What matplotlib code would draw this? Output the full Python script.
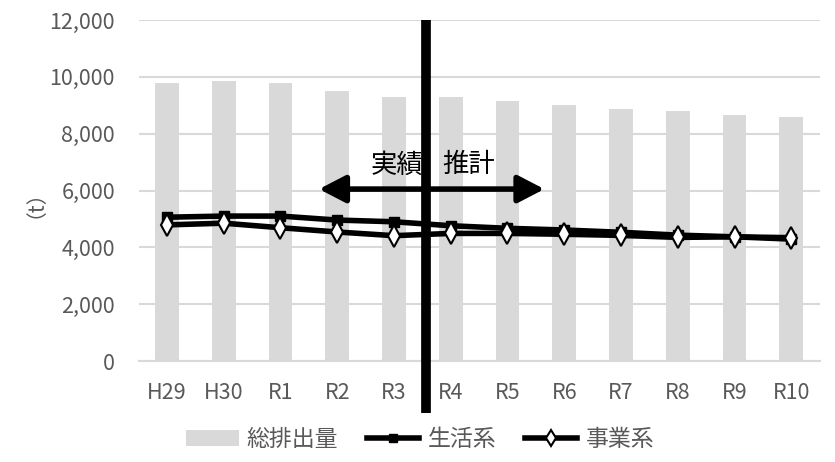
import matplotlib

matplotlib.use("Agg")
import matplotlib.pyplot as plt
from matplotlib.ticker import FuncFormatter

plt.rcParams["font.family"] = ["Noto Sans CJK JP", "DejaVu Sans"]

years = ["H29", "H30", "R1", "R2", "R3", "R4", "R5", "R6", "R7", "R8", "R9", "R10"]
total = [9790, 9850, 9790, 9500, 9290, 9290, 9150, 9010, 8870, 8800, 8660, 8590]
household = [5060, 5100, 5100, 4960, 4900, 4760, 4670, 4610, 4530, 4430, 4370, 4290]
business = [4790, 4850, 4690, 4540, 4410, 4490, 4490, 4460, 4420, 4350, 4370, 4340]

split_x = 4.56  # boundary between actual and estimate
arrow_span = (2.68, 6.65)
arrow_y = 6050

gray_txt = "#595959"
grid_col = "#d9d9d9"

fig = plt.figure(figsize=(8.35, 4.62), dpi=100)
ax = fig.add_axes([0.166, 0.2186, 0.8156, 0.7381])

x = list(range(len(years)))
bars = ax.bar(x, total, width=0.42, color="#d9d9d9", label="総排出量", zorder=2)
l1, = ax.plot(x, household, color="black", linewidth=4, marker="s", markersize=7.5,
              markerfacecolor="black", markeredgecolor="black", label="生活系", zorder=3)
l2, = ax.plot(x, business, color="black", linewidth=4, marker="d", markersize=11,
              markerfacecolor="white", markeredgecolor="black", markeredgewidth=1.5,
              label="事業系", zorder=4)

# actual / estimate divider and arrow
ax.plot([split_x, split_x], [-1830, 12000], color="black", linewidth=7,
        clip_on=False, zorder=5, solid_capstyle="butt")
ax.annotate("", xy=(arrow_span[0], arrow_y), xytext=(arrow_span[1], arrow_y),
            arrowprops=dict(arrowstyle="<|-|>,head_length=1.0,head_width=0.52",
                            color="black", lw=4, mutation_scale=16,
                            shrinkA=0, shrinkB=0),
            zorder=6)
ax.text(split_x - 0.05, 6900, "実績", ha="right", va="center", fontsize=19, zorder=6)
ax.text(split_x + 0.3, 6900, "推計", ha="left", va="center", fontsize=19, zorder=6)

ax.set_xlim(-0.5, len(years) - 0.5)
ax.set_ylim(0, 12000)
ax.set_yticks(range(0, 12001, 2000))
ax.yaxis.set_major_formatter(FuncFormatter(lambda v, _: f"{int(v):,}"))
ax.set_xticks(x)
ax.set_xticklabels(years)
ax.tick_params(axis="both", length=0, labelsize=15.5, labelcolor=gray_txt)
ax.tick_params(axis="x", pad=15)
ax.tick_params(axis="y", pad=17)
ax.grid(axis="y", color=grid_col, linewidth=1.5, zorder=0)
for side in ("top", "right", "left"):
    ax.spines[side].set_visible(False)
ax.spines["bottom"].set_color(grid_col)
ax.spines["bottom"].set_linewidth(1.5)

fig.text(0.029, 0.582, "（t）", rotation=90, ha="center", va="center",
         fontsize=15, color=gray_txt)

fig.legend([bars, l1, l2], ["総排出量", "生活系", "事業系"], loc="center",
           bbox_to_anchor=(0.503, 0.048), ncol=3, frameon=False,
           fontsize=16.5, handlelength=2.3, columnspacing=1.25, handletextpad=0.35,
           markerscale=0.75, labelcolor=gray_txt)

fig.savefig("out.png", dpi=100)
